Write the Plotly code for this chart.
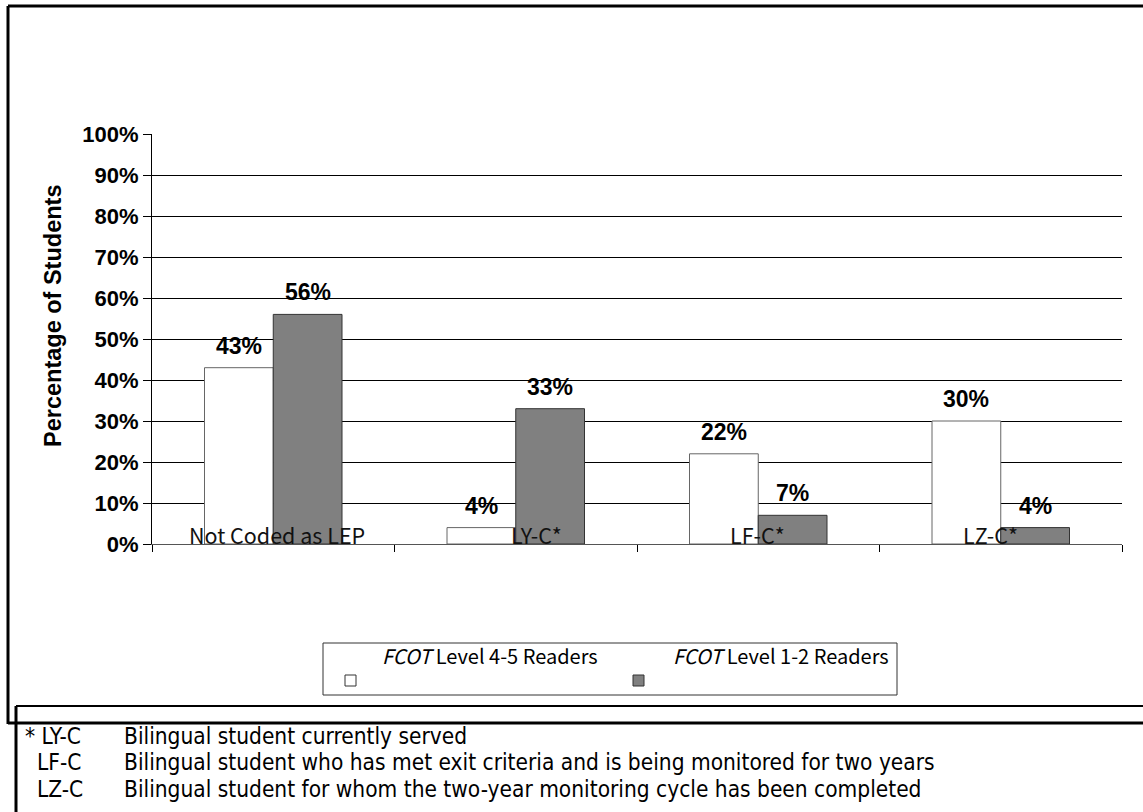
import plotly.graph_objects as go

# Reading groups and the two FCOT reader series
categories = ["Not Coded as LEP", "LY-C*", "LF-C*", "LZ-C*"]
level_45 = [43, 4, 22, 30]   # FCOT Level 4-5 Readers (%)
level_12 = [56, 33, 7, 4]    # FCOT Level 1-2 Readers (%)
series_names = ["Level 4-5 Readers", "Level 1-2 Readers"]
y_ticks = [0, 10, 20, 30, 40, 50, 60, 70, 80, 90, 100]

footnote_codes = ["* LY-C", "LF-C", "LZ-C"]
footnote_texts = [
    "Bilingual student currently served",
    "Bilingual student who has met exit criteria and is being monitored for two years",
    "Bilingual student for whom the two-year monitoring cycle has been completed",
]

W, H = 1143, 812
L, R, T, B = 152, 1122, 134, 544
NARROW = "Noto Sans CJK SC, Liberation Sans, Arial, sans-serif"
NOTE = "DejaVu Sans Condensed, Liberation Sans, Arial, sans-serif"
BOLD = "Liberation Sans, Arial, sans-serif"

# small horizontal nudges for the category names
label_nudge = [4, 21, -1, -10]


def px(x):
    return (x - L) / (R - L)


def py(y):
    return (B - y) / (B - T)


fig = go.Figure()
fig.add_trace(go.Bar(
    x=categories, y=[v / 100 for v in level_45], name=series_names[0],
    marker=dict(color="#ffffff", line=dict(color="#666666", width=1)),
    showlegend=False,
))
fig.add_trace(go.Bar(
    x=categories, y=[v / 100 for v in level_12], name=series_names[1],
    marker=dict(color="#808080", line=dict(color="#333333", width=1)),
    showlegend=False,
))

annotations = []
# value labels above each bar
bar_px = (R - L) / len(categories) * (1 - 0.433) / 2
for vals, shift in ((level_45, -bar_px / 2), (level_12, bar_px / 2)):
    for c, v in zip(categories, vals):
        annotations.append(dict(
            x=c, y=v / 100, xref="x", yref="y", text=f"{v}%", showarrow=False,
            xshift=shift, yshift=22, yanchor="middle",
            font=dict(family=BOLD, size=23, color="#000000", weight="bold"),
        ))
# category names sit on the baseline, over the bars
for c, dx in zip(categories, label_nudge):
    annotations.append(dict(
        x=c, y=0, xref="x", yref="y", text=c, showarrow=False,
        yanchor="bottom", yshift=-8, xshift=dx,
        font=dict(family=NARROW, size=21.5, color="#111111"),
    ))
# y-axis title
annotations.append(dict(
    x=px(53), y=py(316), xref="paper", yref="paper", text="Percentage of Students",
    textangle=-90, showarrow=False, xanchor="center", yanchor="middle",
    font=dict(family=BOLD, size=23.5, color="#000000", weight="bold"),
))
# legend entries
legend_text_x = [380, 671]
for name, lx in zip(series_names, legend_text_x):
    annotations.append(dict(
        x=px(lx), y=py(655), xref="paper", yref="paper",
        text=f"<i>FCOT</i> {name}", showarrow=False,
        xanchor="left", yanchor="middle",
        font=dict(family=NARROW, size=20, color="#000000"),
    ))
# footnotes
for i, (code, txt) in enumerate(zip(footnote_codes, footnote_texts)):
    yy = 736 + 26.3 * i
    annotations.append(dict(
        x=px(23 if code.startswith("*") else 35), y=py(yy), xref="paper", yref="paper",
        text=code, showarrow=False, xanchor="left", yanchor="middle",
        font=dict(family=NOTE, size=22.5, color="#000000"),
    ))
    annotations.append(dict(
        x=px(122), y=py(yy), xref="paper", yref="paper",
        text=txt, showarrow=False, xanchor="left", yanchor="middle",
        font=dict(family=NOTE, size=22.5, color="#000000"),
    ))

shapes = []


def line(x0, y0, x1, y1, width, color="#000000"):
    shapes.append(dict(type="line", xref="paper", yref="paper",
                       x0=px(x0), y0=py(y0), x1=px(x1), y1=py(y1),
                       line=dict(color=color, width=width)))


# outer chart frame
line(8, 6, 1160, 6, 3)
line(8, 6, 8, 724, 3)
line(8, 723, 1160, 723, 3)
# footnote box
line(16, 706, 1160, 706, 2)
line(16, 706, 16, 830, 3)
# legend box and swatches
shapes.append(dict(type="rect", xref="paper", yref="paper",
                   x0=px(323), y0=py(695), x1=px(897), y1=py(643),
                   line=dict(color="#333333", width=1), fillcolor="rgba(0,0,0,0)"))
for (x0, x1), fill, edge in (((345, 356), "#ffffff", "#333333"), ((633, 644), "#808080", "#333333")):
    shapes.append(dict(type="rect", xref="paper", yref="paper",
                       x0=px(x0), y0=py(686), x1=px(x1), y1=py(675),
                       line=dict(color=edge, width=1), fillcolor=fill))

fig.update_layout(
    width=W, height=H,
    margin=dict(l=L, r=W - R, t=T, b=H - B),
    paper_bgcolor="#ffffff", plot_bgcolor="#ffffff",
    barmode="group", bargap=0.433, bargroupgap=0,
    annotations=annotations, shapes=shapes,
    showlegend=False,
    xaxis=dict(
        type="category", showticklabels=False, showgrid=False,
        showline=True, linecolor="#555555", linewidth=1,
        ticks="outside", tickson="boundaries", ticklen=7, tickcolor="#000000",
        fixedrange=True,
    ),
    yaxis=dict(
        range=[0, 1], tickvals=[v / 100 for v in y_ticks],
        ticktext=[f"{v}%" for v in y_ticks],
        showgrid=True, gridcolor="#000000", gridwidth=1,
        showline=True, linecolor="#000000", linewidth=1,
        ticks="outside", ticklen=8, tickcolor="#000000",
        tickfont=dict(family=BOLD, size=22, color="#000000", weight="bold"),
        zeroline=False, fixedrange=True,
    ),
)

fig.write_html("out.html")
